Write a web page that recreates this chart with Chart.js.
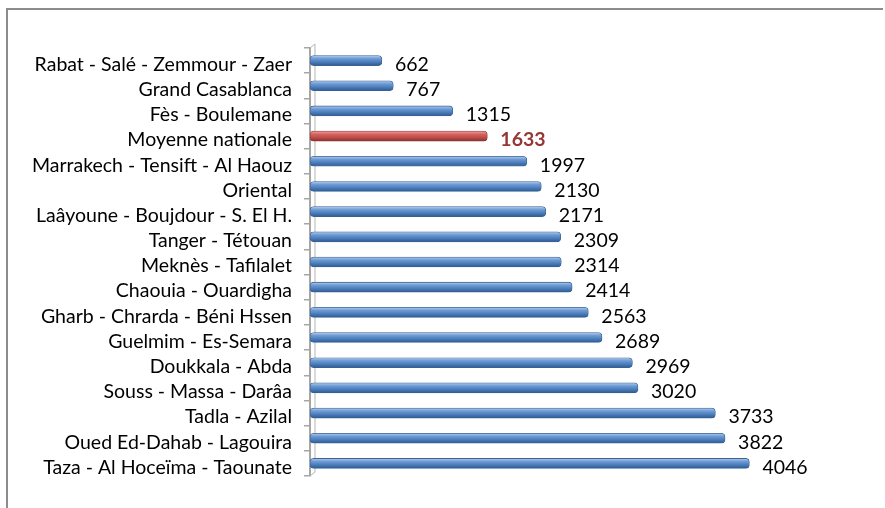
<!DOCTYPE html>
<html>
<head>
<meta charset="utf-8">
<script src="https://cdn.jsdelivr.net/npm/chart.js@4/dist/chart.umd.min.js"></script>
<style>
  html, body { margin: 0; padding: 0; background: #ffffff; }
  #wrap { width: 885px; height: 508px; position: relative; }
</style>
</head>
<body>
<div id="wrap"><canvas id="c" width="885" height="508"></canvas></div>
<script>
const categories = [
  "Rabat - Salé - Zemmour - Zaer",
  "Grand Casablanca",
  "Fès - Boulemane",
  "Moyenne nationale",
  "Marrakech - Tensift - Al Haouz",
  "Oriental",
  "Laâyoune - Boujdour - S. El H.",
  "Tanger - Tétouan",
  "Meknès - Tafilalet",
  "Chaouia - Ouardigha",
  "Gharb - Chrarda - Béni Hssen",
  "Guelmim - Es-Semara",
  "Doukkala - Abda",
  "Souss - Massa - Darâa",
  "Tadla - Azilal",
  "Oued Ed-Dahab - Lagouira",
  "Taza - Al Hoceïma - Taounate"
];
const values = [662, 767, 1315, 1633, 1997, 2130, 2171, 2309, 2314, 2414, 2563, 2689, 2969, 3020, 3733, 3822, 4046];
const highlightLabel = "Moyenne nationale";

const FONT = "Lato, 'Open Sans', sans-serif";
const FSIZE = 19.5;

function barFill(ctx) {
  const chart = ctx.chart;
  const isRed = categories[ctx.dataIndex] === highlightLabel;
  if (!chart.chartArea) return isRed ? '#c0504d' : '#4f81bd';
  const y = chart.scales.y.getPixelForValue(ctx.dataIndex);
  const g = chart.ctx.createLinearGradient(0, y - 5, 0, y + 5);
  if (isRed) {
    g.addColorStop(0, '#f0a9a7');
    g.addColorStop(0.3, '#d9625f');
    g.addColorStop(0.6, '#c0504d');
    g.addColorStop(1, '#8c2f2c');
  } else {
    g.addColorStop(0, '#b3cdee');
    g.addColorStop(0.3, '#6e9bd5');
    g.addColorStop(0.6, '#4f81bd');
    g.addColorStop(1, '#2d5a92');
  }
  return g;
}

const framePlugin = {
  id: 'frame',
  beforeDraw(chart) {
    const c = chart.ctx;
    c.save();
    c.strokeStyle = '#8c8c8c';
    c.lineWidth = 2;
    c.beginPath();
    c.moveTo(7, chart.height);
    c.lineTo(7, 9);
    c.lineTo(chart.width - 2, 9);
    c.stroke();
    c.restore();
  },
  beforeDatasetsDraw(chart) {
    const c = chart.ctx;
    const a = chart.chartArea;
    c.save();
    c.strokeStyle = '#b5b5b5';
    c.lineWidth = 1;
    c.beginPath();
    c.moveTo(a.left + 5, a.top - 4);
    c.lineTo(a.left + 5, a.bottom - 4);
    c.lineTo(a.left, a.bottom);
    c.moveTo(a.left, a.top);
    c.lineTo(a.left + 5, a.top - 4);
    c.stroke();
    c.restore();
  }
};

const labelPlugin = {
  id: 'vlabels',
  afterDatasetsDraw(chart) {
    const c = chart.ctx;
    const meta = chart.getDatasetMeta(0);
    c.save();
    c.textBaseline = 'middle';
    c.textAlign = 'left';
    meta.data.forEach((el, i) => {
      const red = categories[i] === highlightLabel;
      c.font = (red ? 'bold ' : '') + FSIZE + 'px ' + FONT;
      c.fillStyle = red ? '#953735' : '#000000';
      c.fillText(String(values[i]), el.x + 13, el.y + 4);
    });
    c.restore();
  }
};

new Chart(document.getElementById('c'), {
  type: 'bar',
  data: {
    labels: categories,
    datasets: [{
      data: values,
      backgroundColor: barFill,
      borderColor: (ctx) => categories[ctx.dataIndex] === highlightLabel ? '#8c3836' : '#3a6394',
      borderWidth: 0.8,
      borderSkipped: false,
      borderRadius: 4,
      barThickness: 10
    }]
  },
  options: {
    indexAxis: 'y',
    responsive: false,
    animation: false,
    devicePixelRatio: 1,
    layout: { padding: { top: 48, bottom: 32, left: 0, right: 32 } },
    plugins: { legend: { display: false }, tooltip: { enabled: false } },
    scales: {
      x: {
        display: false,
        min: 0,
        max: 5000
      },
      y: {
        offset: true,
        afterFit(scale) { scale.width = 310; },
        grid: {
          drawOnChartArea: false,
          offset: true,
          tickLength: 6,
          color: '#a6a6a6',
          lineWidth: 1.5
        },
        border: { display: true, color: '#a6a6a6', width: 2 },
        ticks: {
          color: '#000000',
          padding: 12,
          autoSkip: false,
          labelOffset: 4,
          font: { family: FONT, size: FSIZE }
        }
      }
    }
  },
  plugins: [framePlugin, labelPlugin]
});
</script>
</body>
</html>
